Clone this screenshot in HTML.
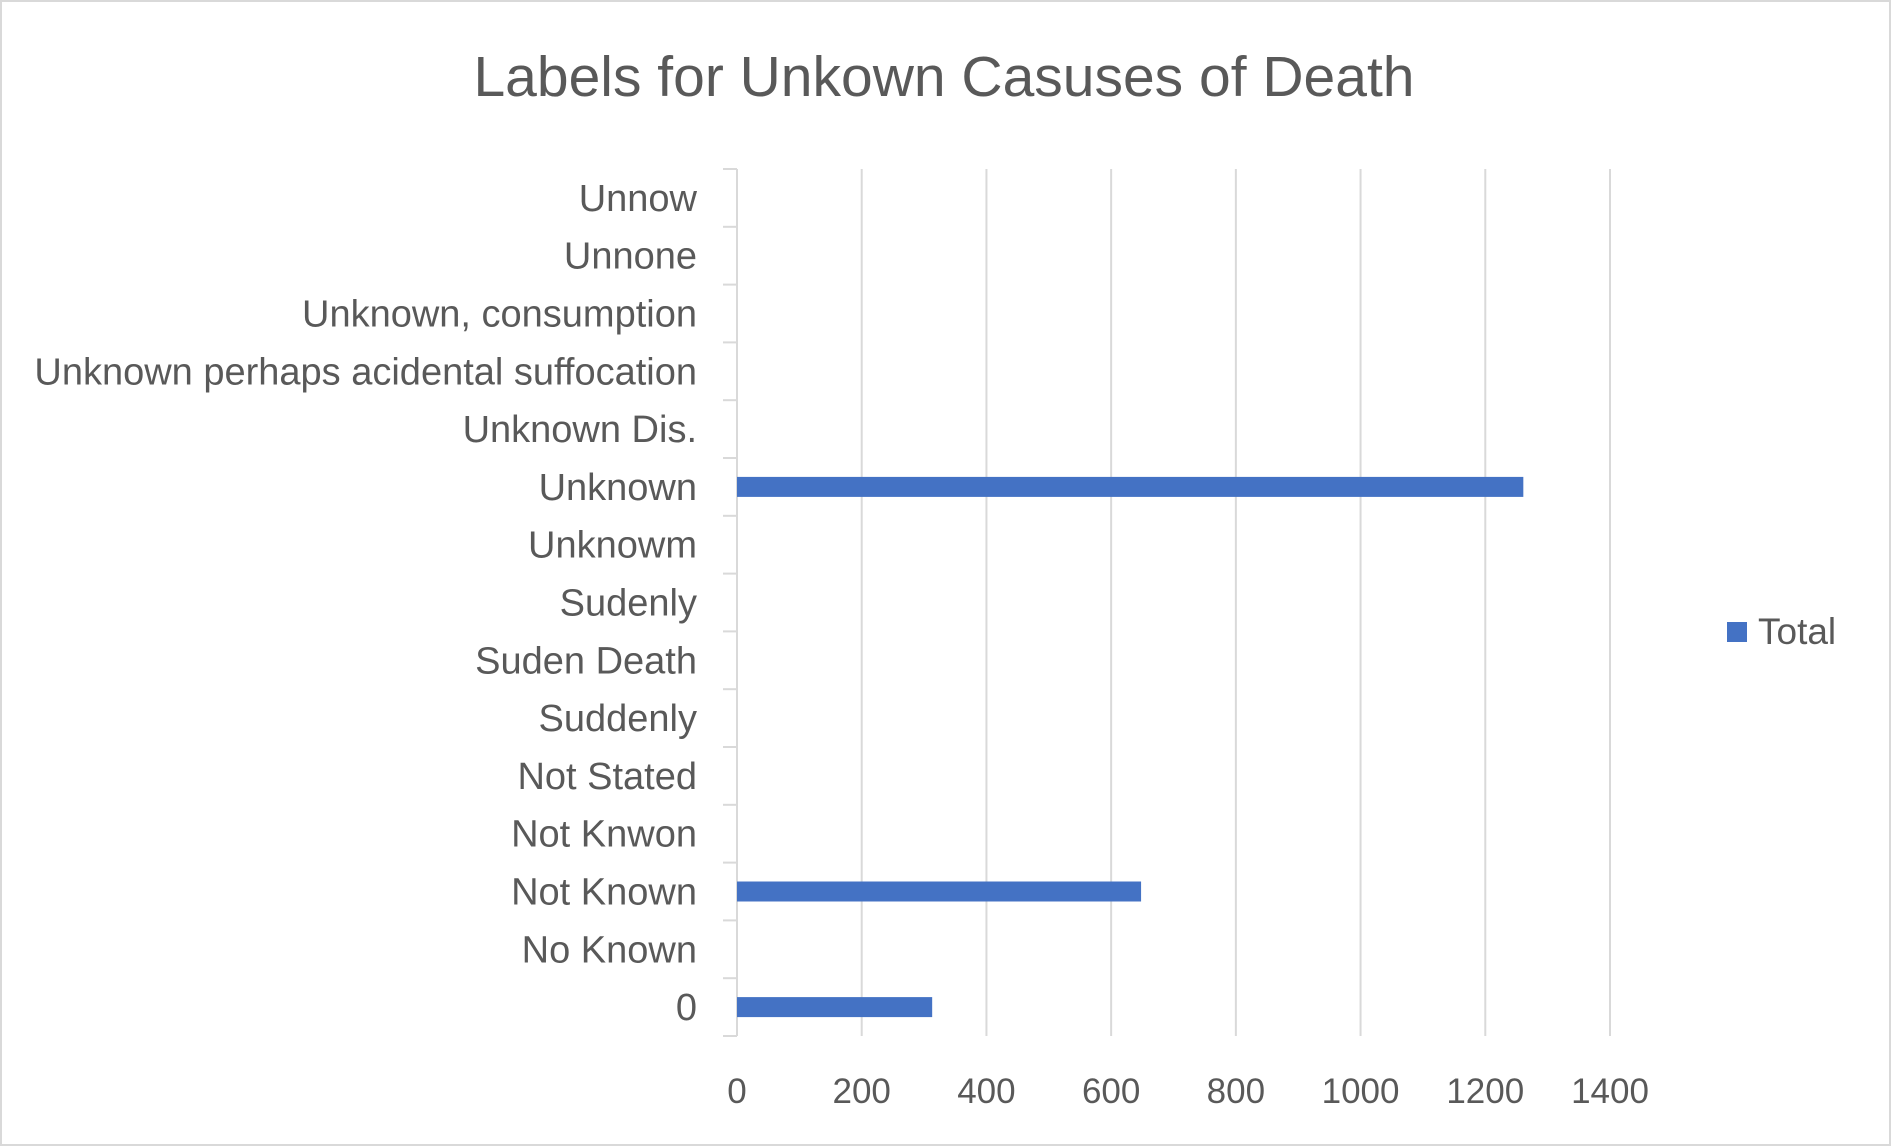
<!DOCTYPE html>
<html><head><meta charset="utf-8"><style>
html,body{margin:0;padding:0;background:#fff;}
svg{display:block;font-family:"Liberation Sans",sans-serif;}
</style></head><body>
<svg id="chart" width="1891" height="1146" viewBox="0 0 1891 1146">
<rect x="1" y="1" width="1889" height="1144" fill="#fff" stroke="#d9d9d9" stroke-width="2"/>
<text x="944" y="96" text-anchor="middle" font-size="57" fill="#595959">Labels for Unkown Casuses of Death</text>
<g id="grid"></g><g id="bars"></g><g id="ylabels"></g><g id="xlabels"></g>
<g>
<rect x="1727" y="622" width="20" height="20" fill="#4472c4"/>
<text x="1758" y="644" font-size="37" fill="#595959">Total</text>
</g>
</svg>
<script>
const categories = ["0","No Known","Not Known","Not Knwon","Not Stated","Suddenly","Suden Death","Sudenly","Unknowm","Unknown","Unknown Dis.","Unknown perhaps acidental suffocation","Unknown, consumption","Unnone","Unnow"];
const values = [313,0,648,0,0,0,0,0,0,1261,0,0,0,0,0];
const ticks = [0,200,400,600,800,1000,1200,1400];
const NS="http://www.w3.org/2000/svg";
const x0=737, x1=1610, xmax=1400, yTop=169, yBot=1036;
const band=(yBot-yTop)/categories.length;
const xs=v=>x0+(v/xmax)*(x1-x0);
const bandY=i=>yBot-(i+1)*band;
function mk(tag,attrs,parent){const e=document.createElementNS(NS,tag);for(const k in attrs)e.setAttribute(k,attrs[k]);document.getElementById(parent).appendChild(e);return e;}
ticks.forEach(t=>{
  const l=mk('line',{x1:xs(t),x2:xs(t),y1:yTop,y2:yBot,stroke:'#d9d9d9','stroke-width':2},'grid');
  
  
  const tx=mk('text',{x:xs(t),y:1103,'text-anchor':'middle','font-size':35,fill:'#595959'},'xlabels');
  tx.textContent=t;
  
  
});
for(let i=0;i<=categories.length;i++){
  const y=yBot-i*band;
  const l=mk('line',{x1:x0-14,x2:x0,y1:y,y2:y,stroke:'#d9d9d9','stroke-width':2},'grid');
  
  
}
categories.forEach((c,i)=>{
  const yc=bandY(i)+band/2;
  const t=mk('text',{x:697,y:yc+13,'text-anchor':'end','font-size':38,fill:'#595959'},'ylabels');
  t.textContent=c;
  
  
  if(values[i]>0){
    const r=mk('rect',{x:x0,y:yc-10,width:xs(values[i])-x0,height:20,fill:'#4472c4'},'bars');
    
    
  }
});
</script>
</body></html>
